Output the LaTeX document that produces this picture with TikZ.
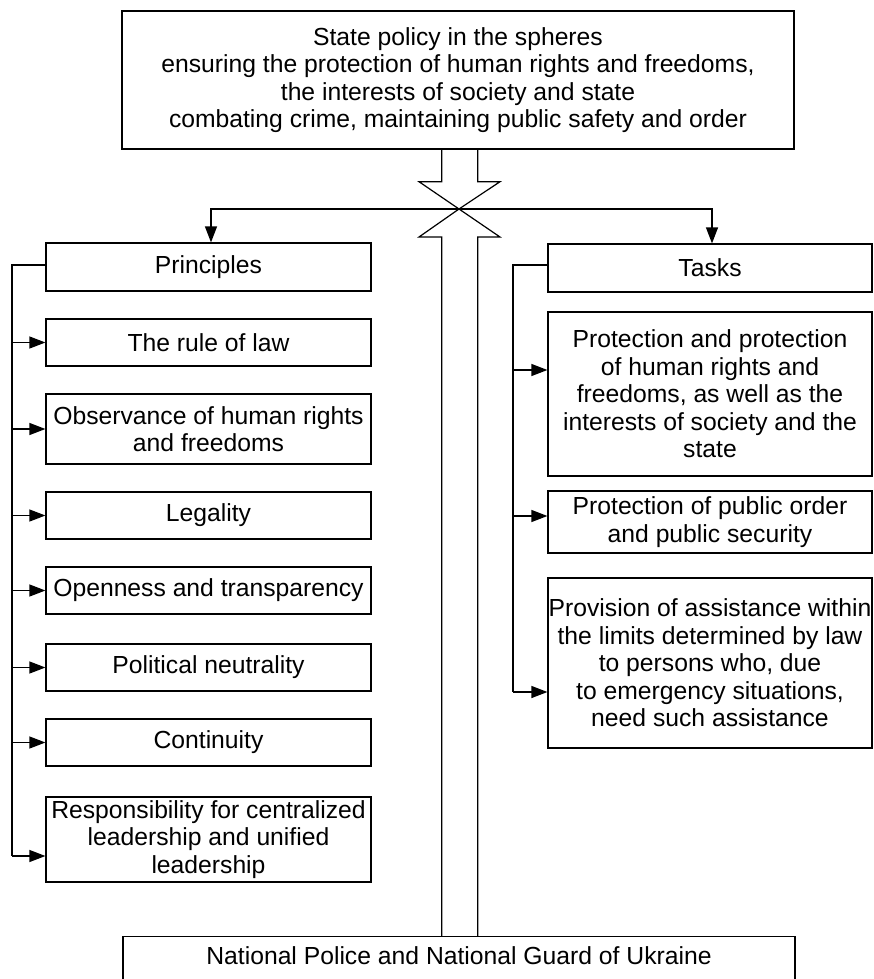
\documentclass[tikz,border=0pt]{standalone}
\usepackage{fontspec}
\setmainfont{Liberation Sans}
\usetikzlibrary{arrows.meta,calc}
\begin{document}
\begin{tikzpicture}[x=1pt,y=-1pt,
  line width=1.2pt,
  every node/.style={font=\fontsize{24.7}{27.5}\selectfont},
  box/.style={draw, rectangle, align=center, inner sep=0pt},
  lbox/.style={box, minimum width=325pt},
  rbox/.style={box, minimum width=324pt},
  arr/.style={-{Triangle[length=16pt,width=12pt]}},
]
\useasboundingbox (0,0) rectangle (873,979);

% top box
\node[box, minimum width=672pt, minimum height=138pt] (state) at (458,80)
  {State policy in the spheres\\ensuring the protection of human rights and freedoms,\\the interests of society and state\\combating crime, maintaining public safety and order};

% bottom box (cut off by the page edge)
\node[box, anchor=north, minimum width=672pt, text height=28pt, text depth=40pt, inner ysep=0pt] (guard) at (459,936)
  {National Police and National Guard of Ukraine};

% headers
\node[lbox, minimum height=48pt] (principles) at (208.5,267) {Principles};
\node[rbox, minimum height=48pt] (tasks) at (710,268) {Tasks};

% left column
\node[lbox, minimum height=47pt] (p1) at (208.5,342.5) {The rule of law};
\node[lbox, minimum height=70pt] (p2) at (208.5,429) {Observance of human rights\\and freedoms};
\node[lbox, minimum height=47pt] (p3) at (208.5,515.5) {Legality};
\node[lbox, minimum height=47pt] (p4) at (208.5,590.5) {Openness and transparency};
\node[lbox, minimum height=47pt] (p5) at (208.5,667.5) {Political neutrality};
\node[lbox, minimum height=47pt] (p6) at (208.5,742.5) {Continuity};
\node[lbox, minimum height=85pt] (p7) at (208.5,839.5) {Responsibility for centralized\\leadership and unified\\leadership};

% right column
\node[rbox, minimum height=164pt] (t1) at (710,394) {Protection and protection\\of human rights and\\freedoms, as well as the\\interests of society and the\\state};
\node[rbox, minimum height=62pt] (t2) at (710,522) {Protection of public order\\and public security};
\node[rbox, minimum height=170pt] (t3) at (710,663) {Provision of assistance within\\the limits determined by law\\to persons who, due\\to emergency situations,\\need such assistance};

% central double arrow
\coordinate (tip) at (459,209);
\draw ($(state.south)+(-16.3,0)$) -- (441.7,181.7) -- (419,181.7) -- (tip)
      -- (500,181.7) -- (477.7,181.7) -- ($(state.south)+(19.7,0)$);
\draw ($(guard.north)+(-17.3,0)$) -- (441.7,237) -- (419,237) -- (tip)
      -- (500,237) -- (477.7,237) -- ($(guard.north)+(18.7,0)$);

% horizontal distribution line
\coordinate (hl) at (211,209);
\coordinate (hr) at (712,209);
\draw[arr] (tip) -- (hl) -- (hl |- principles.north);
\draw[arr] (tip) -- (hr) -- (hr |- tasks.north);

% left bus
\coordinate (lb) at (12,265);
\coordinate (lbend) at (12,856);
\draw ($(principles.west)+(0,-2)$) -- (lb) -- (lbend);
\foreach \n in {p1,p2,p3,p4,p5,p6}
  \draw[arr] (lb |- \n.west) -- (\n.west);
\draw[arr] (lbend) -- (lbend -| p7.west);

% right bus
\coordinate (rb) at (513,265);
\coordinate (rbend) at (513,692);
\draw ($(tasks.west)+(0,-3)$) -- (rb) -- (rbend);
\draw[arr] (rb |- 0,370) -- (t1.west |- 0,370);
\draw[arr] (rb |- 0,516) -- (t2.west |- 0,516);
\draw[arr] (rbend) -- (rbend -| t3.west);
\end{tikzpicture}
\end{document}
